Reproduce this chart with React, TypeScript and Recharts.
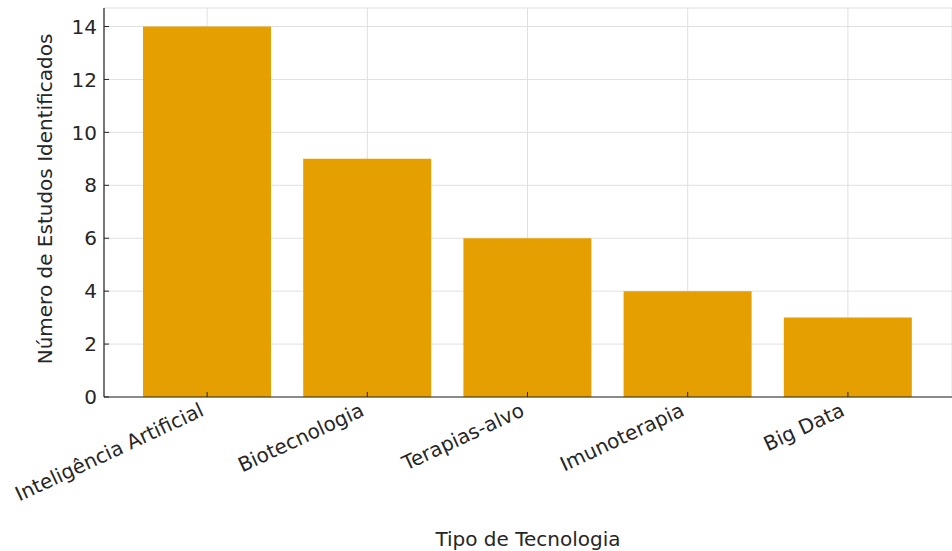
import { BarChart, Bar, XAxis, YAxis, CartesianGrid } from 'recharts';

const categories = ['Inteligência Artificial', 'Biotecnologia', 'Terapias-alvo', 'Imunoterapia', 'Big Data'];
const studyCounts = [14, 9, 6, 4, 3];
const yTicks = [0, 2, 4, 6, 8, 10, 12, 14];

const data = categories.map((tipo, i) => ({ tipo, estudos: studyCounts[i] }));

const FONT = '"DejaVu Sans", sans-serif';
const INK = '#262626';
const LABEL_ANGLE = -25;

function YTick(props: any) {
  const { x, y, payload } = props;
  return (
    <g>
      <line x1={x + 7} y1={y} x2={x + 12} y2={y} stroke={INK} strokeWidth={1} />
      <text x={x} y={y} dy="0.36em" textAnchor="end" fontSize={20} fontFamily={FONT} fill={INK}>
        {payload.value}
      </text>
    </g>
  );
}

function XTick(props: any) {
  const { x, y, payload } = props;
  const tx = x - 2;
  const ty = y + 18;
  return (
    <g>
      <line x1={x} y1={y} x2={x} y2={y - 5} stroke={INK} strokeWidth={1} />
      <text
        x={tx}
        y={ty}
        textAnchor="end"
        fontSize={20}
        fontFamily={FONT}
        fill={INK}
        transform={`rotate(${LABEL_ANGLE}, ${tx}, ${ty})`}
      >
        {payload.value}
      </text>
    </g>
  );
}

export default function App() {
  return (
    <div style={{ position: 'absolute', left: 0, top: 0, width: 952, height: 551, overflow: 'hidden', background: '#fff' }}>
      <BarChart width={952} height={551} data={data} margin={{ top: 8, right: 0, bottom: 0, left: 0 }} barCategoryGap="10%">
        <CartesianGrid stroke="#e0e0e0" strokeWidth={1} />
        <XAxis
          dataKey="tipo"
          height={154}
          padding={{ left: 23, right: 24 }}
          tickLine={false}
          tickSize={0}
          tickMargin={0}
          axisLine={{ stroke: INK, strokeWidth: 1.2 }}
          tick={<XTick />}
          interval={0}
          label={() => (
            <text x={528} y={546} textAnchor="middle" fontSize={20} fontFamily={FONT} fill={INK}>
              Tipo de Tecnologia
            </text>
          )}
        />
        <YAxis
          width={104}
          domain={[0, 14.7]}
          ticks={yTicks}
          tickLine={false}
          tickSize={0}
          tickMargin={7}
          axisLine={{ stroke: INK, strokeWidth: 1.2 }}
          tick={<YTick />}
          label={() => (
            <text
              x={52}
              y={199}
              textAnchor="middle"
              fontSize={20}
              fontFamily={FONT}
              fill={INK}
              transform="rotate(-90, 52, 199)"
            >
              Número de Estudos Identificados
            </text>
          )}
        />
        <Bar dataKey="estudos" fill="#E69F00" isAnimationActive={false} />
      </BarChart>
    </div>
  );
}
